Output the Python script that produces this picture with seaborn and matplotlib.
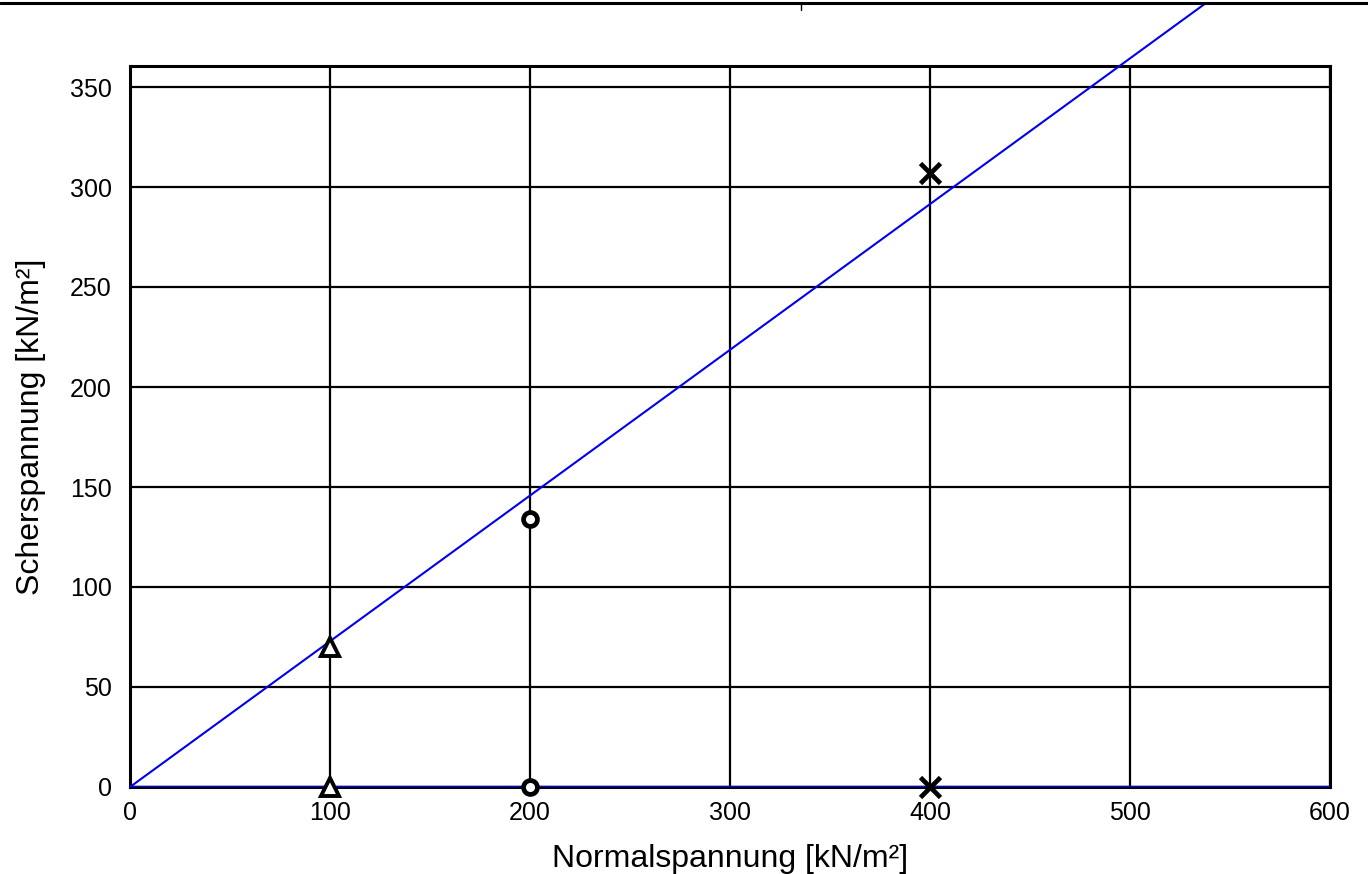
import pandas as pd
import matplotlib.pyplot as plt
import seaborn as sns
from matplotlib.lines import Line2D

# === Data ===
normal = [100, 200, 400]
shear = [70, 134, 307]
marker_kind = ["tri", "circ", "cross"]

line_x = [0, 538]
line_y = [0, 392]
base_x = [0, 600]
base_y = [0, 0]

x_ticks = [0, 100, 200, 300, 400, 500, 600]
y_ticks = [0, 50, 100, 150, 200, 250, 300, 350]

df = pd.DataFrame({"normal": normal, "shear": shear, "kind": marker_kind})
df_zero = pd.DataFrame({"normal": normal, "shear": [0, 0, 0], "kind": marker_kind})

# === Style ===
sns.set_style("white")
plt.rcParams["font.family"] = ["Liberation Sans", "DejaVu Sans"]
plt.rcParams["text.color"] = "black"
plt.rcParams["axes.labelcolor"] = "black"
plt.rcParams["xtick.color"] = "black"
plt.rcParams["ytick.color"] = "black"

fig = plt.figure(figsize=(13.68, 8.74), dpi=100)
ax = fig.add_axes([130 / 1368, 87 / 874, 1200 / 1368, 721 / 874])

# grid
ax.set_xticks(x_ticks)
ax.set_yticks(y_ticks)
ax.grid(True, color="black", linewidth=1.6)
ax.set_axisbelow(True)

# fit line and base line
sns.lineplot(x=line_x, y=line_y, ax=ax, color="#0000ee", linewidth=1.5, clip_on=False, zorder=3)
sns.lineplot(x=base_x, y=base_y, ax=ax, color="#0000ee", linewidth=2.5, zorder=3)

# markers
styles = {"tri": ("^", 13, 2.8), "circ": ("o", 10, 3.4), "cross": ("x", 15, 3.4)}
for kind, (m, s, ew) in styles.items():
    for d in (df, df_zero):
        sub = d[d["kind"] == kind]
        ax.plot(sub["normal"], sub["shear"], linestyle="none", marker=m, markersize=s,
                markeredgewidth=ew, markeredgecolor="black", markerfacecolor="white",
                zorder=4, clip_on=False)

ax.set_xlim(0, 600)
ax.set_ylim(0, 360.5)
for sp in ax.spines.values():
    sp.set_color("black")
    sp.set_linewidth(2.2)
    sp.set_visible(True)

ax.tick_params(axis="both", labelsize=18, length=0)
ax.tick_params(axis="x", pad=10)
ax.tick_params(axis="y", pad=13)
ax.set_xlabel("Normalspannung [kN/m²]", fontsize=23, labelpad=14)
ax.set_ylabel("Scherspannung [kN/m²]", fontsize=23, labelpad=17)

# top frame line
fig.add_artist(Line2D([0, 1], [1 - 3 / 874, 1 - 3 / 874], color="black", linewidth=2.2))
fig.add_artist(Line2D([801 / 1368, 801 / 1368], [1 - 3 / 874, 1 - 10 / 874], color="black", linewidth=1))

plt.savefig("out.png", dpi=100)
